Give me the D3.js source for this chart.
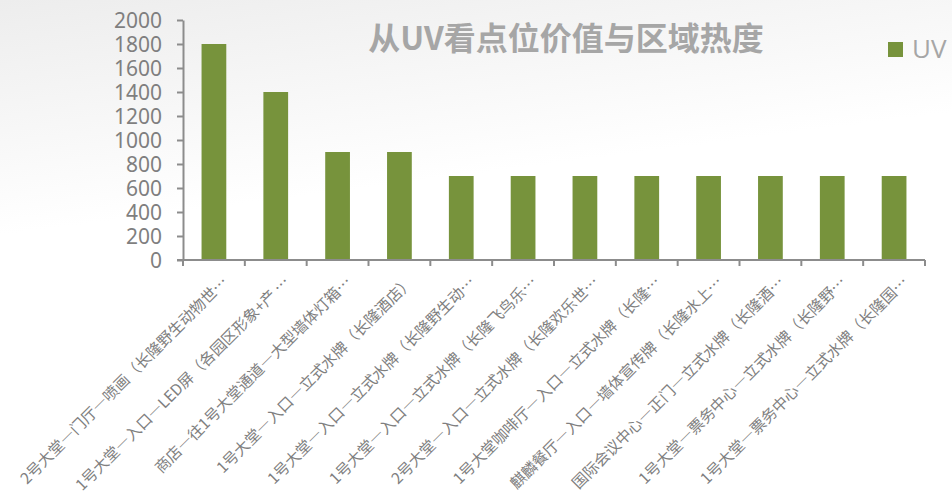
<!DOCTYPE html>
<html>
<head>
<meta charset="utf-8">
<script src="https://cdn.jsdelivr.net/npm/d3@7"></script>
<style>
  html, body { margin: 0; padding: 0; background: #fff; }
  svg { display: block; }
  .fw { font-feature-settings: "fwid" 1; }
</style>
</head>
<body>
<svg width="952" height="492"></svg>
<script>
let categories = [
    "2号大堂—门厅—喷画（长隆野生动物世…",
    "1号大堂—入口—LED屏（各园区形象+产 …",
    "商店—往1号大堂通道—大型墙体灯箱…",
    "1号大堂—入口—立式水牌（长隆酒店）",
    "1号大堂—入口—立式水牌（长隆野生动…",
    "1号大堂—入口—立式水牌（长隆飞鸟乐…",
    "2号大堂—入口—立式水牌（长隆欢乐世…",
    "1号大堂咖啡厅—入口—立式水牌（长隆…",
    "麒麟餐厅—入口—墙体宣传牌（长隆水上…",
    "国际会议中心—正门—立式水牌（长隆酒…",
    "1号大堂—票务中心—立式水牌（长隆野…",
    "1号大堂—票务中心—立式水牌（长隆国…"
];
let uvValues = [1800, 1400, 900, 900, 700, 700, 700, 700, 700, 700, 700, 700];
let yTicks = [0, 200, 400, 600, 800, 1000, 1200, 1400, 1600, 1800, 2000];
let seriesName = "UV";
let title = "从UV看点位价值与区域热度";

let svg = d3.select("svg"),
    width = +svg.attr("width"),
    height = +svg.attr("height");

let grey = "#7f7f7f";
let barColor = "#77933c";

// soft grey background fading to white
let defs = svg.append("defs");
let grad = defs.append("linearGradient")
    .attr("id", "bg")
    .attr("x1", 0).attr("y1", 0)
    .attr("x2", 0.25).attr("y2", 1);
grad.append("stop").attr("offset", "0%").attr("stop-color", "#ededed");
grad.append("stop").attr("offset", "45%").attr("stop-color", "#ffffff");
grad.append("stop").attr("offset", "100%").attr("stop-color", "#ffffff");
svg.append("rect").attr("width", width).attr("height", height).attr("fill", "url(#bg)");

let x = d3.scaleBand()
    .domain(categories)
    .range([183, 925])
    .paddingInner(0.6)
    .paddingOuter(0.3);

let y = d3.scaleLinear()
    .domain([0, 2000])
    .range([260, 20]);

// bars
svg.append("g")
    .selectAll("rect")
    .data(uvValues)
    .enter().append("rect")
    .attr("x", (d, i) => x(categories[i]))
    .attr("y", d => y(d))
    .attr("width", x.bandwidth())
    .attr("height", d => y(0) - y(d))
    .attr("fill", barColor);

// y axis
let yAxis = svg.append("g")
    .attr("transform", "translate(183,0)")
    .call(d3.axisLeft(y).tickValues(yTicks).tickFormat(d3.format("d"))
        .tickSize(6).tickSizeOuter(0).tickPadding(15));
yAxis.select(".domain").attr("stroke", "#8c8c8c").attr("stroke-width", 2);
yAxis.selectAll(".tick line").attr("stroke", "#8c8c8c").attr("stroke-width", 2);
yAxis.selectAll(".tick text")
    .attr("fill", grey)
    .style("font-family", "'Noto Sans', 'Open Sans', sans-serif")
    .style("font-size", "21px")
    .attr("dy", "0.34em");

// x axis: line + ticks at category boundaries
let xAxis = svg.append("g").attr("transform", "translate(0,260)");
xAxis.append("line")
    .attr("x1", 177).attr("x2", x.range()[1])
    .attr("stroke", "#8c8c8c").attr("stroke-width", 2);
let gap = (x.step() - x.bandwidth()) / 2;
let bounds = categories.map(c => x(c) - gap).concat([x(categories[categories.length - 1]) + x.bandwidth() + gap]);
xAxis.selectAll(".xtick")
    .data(bounds)
    .enter().append("line")
    .attr("class", "xtick")
    .attr("x1", d => d).attr("x2", d => d)
    .attr("y1", 0).attr("y2", 6)
    .attr("stroke", "#8c8c8c").attr("stroke-width", 2);

let labels = xAxis.selectAll(".xlabel")
    .data(categories)
    .enter().append("text")
    .attr("class", "xlabel")
    .attr("transform", d => `translate(${x(d) + x.bandwidth() / 2 + 15},${23}) rotate(-45)`)
    .attr("text-anchor", "end")
    .attr("fill", grey)
    .style("font-family", "'Noto Sans CJK SC', sans-serif")
    .style("font-size", "15.4px");

// full-width dashes as in the original labels
labels.each(function(d) {
    let t = d3.select(this);
    d.split(/(—)/).forEach(part => {
        if (!part) return;
        t.append("tspan")
            .attr("class", part === "—" ? "fw" : null)
            .text(part);
    });
});

// title
svg.append("text")
    .attr("x", 566)
    .attr("y", 50)
    .attr("text-anchor", "middle")
    .attr("fill", "#a6a6a6")
    .style("font-family", "'Noto Sans CJK SC', sans-serif")
    .style("font-weight", "bold")
    .style("font-size", "32px")
    .text(title);

// legend
let legend = svg.append("g").attr("transform", "translate(888,42)");
legend.append("rect")
    .attr("width", 15).attr("height", 15)
    .attr("fill", barColor);
legend.append("text")
    .attr("x", 24)
    .attr("y", 16)
    .attr("fill", "#a6a6a6")
    .style("font-family", "'Open Sans', 'Noto Sans', sans-serif")
    .style("font-size", "26px")
    .text(seriesName);
</script>
</body>
</html>
